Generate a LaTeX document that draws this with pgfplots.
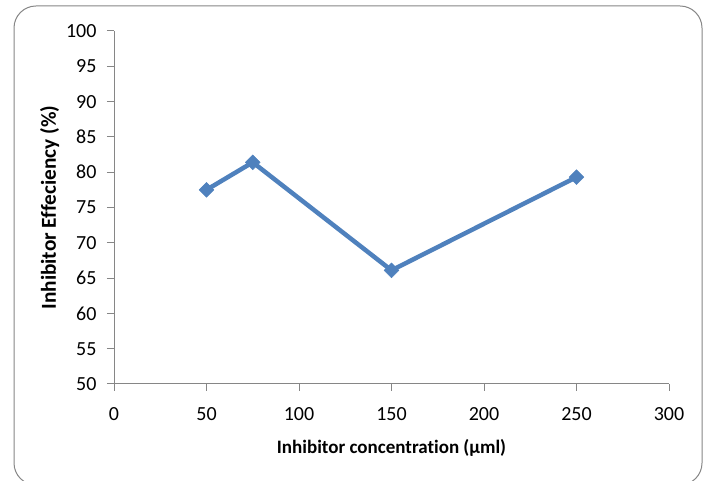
\documentclass[border=0pt]{standalone}
\usepackage{fontspec}
\setmainfont{Carlito}[Ligatures=NoCommon]
\usepackage{pgfplots}
\pgfplotsset{compat=1.18}
\definecolor{exblue}{RGB}{79,129,189}
\definecolor{framegray}{RGB}{134,134,134}

\begin{document}
\begin{tikzpicture}[x=1pt,y=1pt]
\useasboundingbox (0,0) rectangle (705,481);
\begin{scope}
\clip (0,0) rectangle (705,481);
\draw[framegray, line width=1pt, rounded corners=22pt] (14,475) rectangle (702,-4);
\end{scope}
\begin{axis}[
    at={(114pt,97pt)}, anchor=south west,
    scale only axis,
    width=555pt, height=353pt,
    xmin=0, xmax=300, ymin=50, ymax=100,
    xtick={0,50,...,300},
    ytick={50,55,...,100},
    axis x line*=bottom,
    axis y line*=left,
    axis line style={framegray, line width=1pt},
    tick style={framegray, line width=1pt},
    tick align=outside,
    major tick length=7pt,
    font=\fontsize{20}{24}\selectfont,
    /pgf/number format/assume math mode=true,
    xticklabel style={yshift=-13pt},
    yticklabel style={xshift=-7pt},
    xlabel={\textbf{Inhibitor concentration (µml)}},
    ylabel={\textbf{Inhibitor Effeciency (\%)}},
    xlabel style={font=\fontsize{19}{22}\selectfont, yshift=-12pt},
    ylabel style={font=\fontsize{21.3}{25}\selectfont, yshift=0pt},
    clip=false,
]
\addplot[exblue, line width=4.5pt, mark=square*, mark size=5.2pt,
         mark options={solid, rotate=45, fill=exblue, line width=0.5pt}]
  coordinates {(50,77.5) (75,81.4) (150,66.1) (250,79.3)};
\end{axis}
\end{tikzpicture}
\end{document}
